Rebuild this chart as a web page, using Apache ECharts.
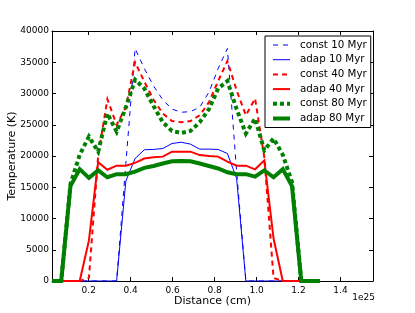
<!DOCTYPE html>
<html><head><meta charset="utf-8">
<script src="https://cdn.jsdelivr.net/npm/echarts@6/dist/echarts.min.js"></script>
<style>html,body{margin:0;padding:0;background:#fff}#c{width:415px;height:313px}</style>
</head><body><div id="c"></div>
<script>
// Distance in units of 1e25 cm
const distance = [0.025,0.069,0.113,0.157,0.201,0.245,0.289,0.333,0.377,0.421,0.465,0.509,0.553,0.597,0.641,0.685,0.729,0.773,0.817,0.861,0.905,0.949,0.993,1.037,1.081,1.125,1.169,1.213,1.257,1.301];
const const10 = [0,0,0,0,0,0,0,0,18800,37200,34000,31200,29000,27500,27000,27100,27800,30200,34000,37200,17500,0,0,0,0,0,0,0,0,0];
const adap10  = [0,0,0,0,0,0,0,0,16000,19600,21000,21050,21200,22000,22200,21900,21100,21100,21050,20400,16400,0,0,0,0,0,0,0,0,0];
const const40 = [0,0,0,0,500,20000,29100,25000,27800,35000,31900,29000,26800,25600,25400,25600,26500,28600,32000,35200,30500,26500,29200,19800,500,0,0,0,0,0];
const adap40  = [0,0,0,0,6500,19000,17800,18450,18450,18900,19600,19800,19900,20700,20700,20700,20150,20000,19900,19100,18450,18450,17870,19300,6800,0,0,0,0,0];
const const80 = [0,0,15500,20200,23100,20700,26800,23900,27800,32200,30800,28000,25400,24000,23700,24000,25400,27500,30800,32000,27500,23600,26000,20900,22800,20200,15800,0,0,0];
const adap80  = [0,0,15200,17900,16500,17700,16600,17100,17100,17500,18100,18400,18800,19150,19200,19150,18800,18400,18000,17400,17100,17100,16700,17700,16600,17900,15200,0,0,0];
const seriesNames = ['const 10 Myr','adap 10 Myr','const 40 Myr','adap 40 Myr','const 80 Myr','adap 80 Myr'];
const xTitle = 'Distance (cm)';
const yTitle = 'Temperature (K)';
const xOffsetText = '1e25';

const FONT = 'DejaVu Sans';
const pair = arr => distance.map((d,i)=>[d,arr[i]]);
const styles = [
  {color:'#0000ff', width:1, type:[5,5]},
  {color:'#0000ff', width:1, type:'solid'},
  {color:'#ff0000', width:2, type:[5,4]},
  {color:'#ff0000', width:2, type:'solid'},
  {color:'#008000', width:4, type:[4,3]},
  {color:'#008000', width:4, type:'solid'}
];
const datas = [const10, adap10, const40, adap40, const80, adap80];

const axisCommon = {
  axisLine:{show:true,onZero:false,lineStyle:{color:'#000',width:1}},
  axisTick:{show:true,inside:true,length:4,lineStyle:{color:'#000'}},
  splitLine:{show:false}
};
const xMin = 0.025, xMax = 1.555;
const chart = echarts.init(document.getElementById('c'), null, {renderer:'canvas'});
chart.setOption({
  animation:false,
  backgroundColor:'#fff',
  textStyle:{fontFamily:FONT},
  grid:{left:52, right:42, top:31, bottom:32, containLabel:false, outerBoundsMode:'none'},
  xAxis:[
    Object.assign({type:'value', min:xMin, max:xMax, splitNumber:7, position:'bottom',
      name:xTitle, nameLocation:'middle', nameGap:15, nameMoveOverlap:false,
      nameTextStyle:{fontFamily:FONT, fontSize:11, color:'#000', verticalAlign:'top'},
      axisLabel:{fontFamily:FONT, fontSize:9, color:'#000', margin:5, showMinLabel:false, showMaxLabel:false,
        formatter:v=>(Math.abs(v*10-Math.round(v*10))<1e-6 && Math.round(v*10)%2===0)?v.toFixed(1):''}}, axisCommon),
    Object.assign({type:'value', min:xMin, max:xMax, splitNumber:7, position:'top', axisLabel:{show:false}}, axisCommon)
  ],
  yAxis:[
    Object.assign({type:'value', min:0, max:40000, interval:5000, position:'left',
      name:yTitle, nameLocation:'middle', nameGap:34, nameMoveOverlap:false,
      nameTextStyle:{fontFamily:FONT, fontSize:11, color:'#000'},
      axisLabel:{fontFamily:FONT, fontSize:9, color:'#000', margin:3, formatter:v=>String(v)}}, axisCommon),
    Object.assign({type:'value', min:0, max:40000, interval:5000, position:'right', axisLabel:{show:false}}, axisCommon)
  ],
  legend:{
    orient:'vertical', left:265, top:36,
    data:seriesNames.map((n,i)=>({name:n, lineStyle:{width:styles[i].width, type:styles[i].type, color:styles[i].color}})),
    itemWidth:17, itemHeight:10, itemGap:2.7,
    padding:[3,4,3,6],
    borderColor:'#000', borderWidth:1,
    backgroundColor:'#fff',
    itemStyle:{opacity:0},
    textStyle:{fontFamily:FONT, fontSize:10.3, color:'#000', lineHeight:12, padding:[0,0,0,5]}
  },
  graphic:[{type:'text', right:40, top:293, style:{text:xOffsetText, font:'9px "DejaVu Sans"', fill:'#000'}}],
  series: seriesNames.map((n,i)=>({
    name:n, type:'line', data:pair(datas[i]), showSymbol:false, symbol:'none',
    lineStyle:{color:styles[i].color, width:styles[i].width, type:styles[i].type, cap:'butt', join:'miter'},
    itemStyle:{color:styles[i].color},
    xAxisIndex:0, yAxisIndex:0, z:2+i
  }))
});
</script></body></html>
